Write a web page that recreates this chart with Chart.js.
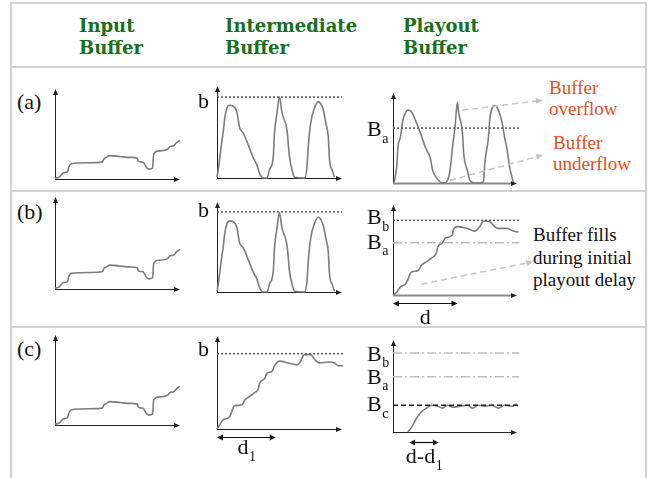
<!DOCTYPE html>
<html>
<head>
<meta charset="utf-8">
<script src="https://cdn.jsdelivr.net/npm/chart.js@4.4.1/dist/chart.umd.min.js"></script>
<style>
  body { margin: 0; background: #fff; }
  #page { position: relative; width: 657px; height: 478px; overflow: hidden; }
  .rule { position: absolute; background: #d2d2d2; }
  .head { position: absolute; font: bold 18px "DejaVu Serif", serif; line-height: 22px; color: #17701a; }
  .row { position: absolute; font: 22px "Liberation Serif", serif; line-height: 24px; color: #111; }
  .note { position: absolute; font: 19px "Liberation Serif", serif; line-height: 21px; }
  canvas { position: absolute; }
</style>
</head>
<body>
<div id="page"></div>
<script>
// column titles and row labels
const columnTitles = [['Input', 'Buffer'], ['Intermediate', 'Buffer'], ['Playout', 'Buffer']];
const rowLabels = ['(a)', '(b)', '(c)'];

// curves, [time, fill] in % of the axis
const inputBuffer = [[0,1],[3,2],[6,6],[7,7],[10,8],[11,13],[13,17],[28,18],[38,19],[39,22],[41,24],[44,26],[52,25],[60,24],[66,23],[66.5,20],[69,19],[71,18],[73,13],[75,11],[78,12],[79,28],[82,31],[90,33],[92,36],[95,37],[97,40],[100,43]];
const interPeaks = [[0,1],[1,9],[4,41],[5,50],[6,63],[8,76],[10,79],[14,77],[16,71],[18,55],[21,49],[25,36],[29,22],[32,14],[34,5],[37,0],[40,0],[42,9],[45,23],[46,49],[48,71],[50,88],[52,71],[56,52],[58,23],[60,9],[62,1],[70,0],[72,12],[73,34],[75,60],[78,76],[81,83],[85,74],[87,60],[89,45],[90,20],[92,9],[94,1]];
const interFill = [[0,0],[2,4],[5,10],[10,13],[13,23],[14,25],[20,26],[22,31],[25,34],[30,39],[33,43],[34,49],[38,54],[40,60],[44,62],[46,68],[50,73],[57,71],[64,69],[66,71],[70,80],[75,80],[78,75],[82,71],[90,72],[94,71],[97,68],[101,68]];
const playoutPeaks = [[1,1],[3,18],[4,40],[6,51],[8,70],[10,78],[12,81],[15,79],[18,70],[22,56],[26,40],[30,28],[32,14],[35,6],[40,0],[43,1],[46,14],[48,40],[50,62],[52,90],[53,78],[56,56],[57,33],[60,14],[62,3],[66,0],[73,1],[74,22],[77,51],[78,70],[82,86],[85,81],[88,67],[90,51],[92,37],[94,18],[97,1]];
const playoutFill = [[0,0],[3,3],[6,9],[10,12],[12,17],[14,24],[16,26],[20,27],[23,33],[27,37],[31,41],[35,47],[36,53],[40,58],[42,63],[44,64],[48,67],[48.5,72],[52,76],[60,74],[66,71],[70,76],[73,82],[77,82],[80,79],[84,74],[92,74],[97,71],[101,70],[105,70]];
const playoutSteady = [[12,0],[15,5],[19,15],[23,22],[27,26],[31,29],[36,28],[40,26],[44,29],[48,27],[54,28],[60,29],[64,26],[69,29],[74,28],[80,29],[85,26],[90,29],[96,28],[100,30],[104,27]];

// buffer levels
const levelB = [88, 89, 81];          // intermediate b, rows a..c
const levelsA = { Ba: 61 };
const levelsB = { Bb: 83, Ba: 58 };
const levelsC = { Bb: 86, Ba: 60, Bc: 29 };

// delays and pointers
const spanD = [0, 52];
const spanD1 = [0, 47];
const spanDminusD1 = [13, 37];
const overflowArrow = [[56, 81], [121, 92]];
const underflowArrow = [[46, 3], [121, 31]];
const fillArrow = [[23, 12], [113, 37]];

const page = document.getElementById('page');

function rule(x, y, w, h) {
  const d = document.createElement('div');
  d.className = 'rule';
  Object.assign(d.style, { left: x + 'px', top: y + 'px', width: w + 'px', height: h + 'px' });
  page.appendChild(d);
}
function text(cls, x, y, lines, color) {
  const d = document.createElement('div');
  d.className = cls;
  d.style.left = x + 'px';
  d.style.top = y + 'px';
  if (color) d.style.color = color;
  d.innerHTML = lines.join('<br>');
  page.appendChild(d);
  return d;
}

rule(10, 2, 637, 2);
rule(10, 66, 637, 2);
rule(10, 190, 637, 2);
rule(10, 326, 637, 2);
rule(10, 2, 2, 476);
rule(645, 2, 2, 476);

[79, 225, 403].forEach((x, i) => text('head', x, 15, columnTitles[i]));
[90, 200, 337].forEach((y, i) => text('row', 17, y, [rowLabels[i]]));
text('note', 549, 77, ['Buffer', 'overflow'], '#e2501e');
text('note', 553, 132, ['Buffer', 'underflow'], '#e2501e');
text('note', 533, 224, ['Buffer fills', 'during initial', 'playout delay'], '#111').style.lineHeight = '22.5px';

function head(ctx, x, y, ang, len, w) {
  ctx.beginPath();
  ctx.moveTo(x, y);
  ctx.lineTo(x - len * Math.cos(ang) + w * Math.sin(ang), y - len * Math.sin(ang) - w * Math.cos(ang));
  ctx.lineTo(x - len * Math.cos(ang) - w * Math.sin(ang), y - len * Math.sin(ang) + w * Math.cos(ang));
  ctx.closePath();
  ctx.fill();
}

function subText(ctx, main, sub, x, y, size) {
  ctx.font = size + 'px "Liberation Serif"';
  ctx.fillText(main, x, y);
  if (sub) {
    const w = ctx.measureText(main).width;
    ctx.font = Math.round(size * 0.65) + 'px "Liberation Serif"';
    ctx.fillText(sub, x + w + 0.5, y + size * 0.4);
  }
}

const sketch = {
  id: 'sketch',
  beforeDatasetsDraw(chart, args, o) {
    const { ctx, chartArea: a } = chart;
    ctx.save();
    ctx.fillStyle = '#222';
    ctx.strokeStyle = '#222';
    ctx.lineWidth = 1;
    ctx.beginPath();
    ctx.moveTo(a.left + 0.5, a.bottom);
    ctx.lineTo(a.left + 0.5, a.top + 3);
    ctx.stroke();
    head(ctx, a.left + 0.5, a.top, -Math.PI / 2, 6, 2.5);
    ctx.strokeStyle = o.xColor || '#222';
    ctx.lineWidth = o.xWidth || 1;
    ctx.beginPath();
    ctx.moveTo(a.left, a.bottom + 0.5);
    ctx.lineTo(a.right - 3, a.bottom + 0.5);
    ctx.stroke();
    head(ctx, a.right, a.bottom + 0.5, 0, 6, 2.5);
    ctx.restore();
  },
  afterDatasetsDraw(chart, args, o) {
    const { ctx, chartArea: a, scales: { x, y } } = chart;
    ctx.save();
    ctx.fillStyle = '#111';
    ctx.textBaseline = 'middle';
    (o.labels || []).forEach(l => {
      subText(ctx, l.t, l.s, a.left + l.dx, y.getPixelForValue(l.v) + (l.dy || 0), 22);
    });
    (o.spans || []).forEach(s => {
      const x0 = x.getPixelForValue(s.range[0]), x1 = x.getPixelForValue(s.range[1]);
      const yy = a.bottom + s.dy + 0.5;
      ctx.strokeStyle = '#111';
      ctx.lineWidth = 1.2;
      ctx.beginPath();
      ctx.moveTo(x0 + 3, yy);
      ctx.lineTo(x1 - 3, yy);
      ctx.stroke();
      head(ctx, x0, yy, Math.PI, 6, 3);
      head(ctx, x1, yy, 0, 6, 3);
      ctx.font = '22px "Liberation Serif"';
      let w = ctx.measureText(s.t).width;
      if (s.s) { ctx.font = '14px "Liberation Serif"'; w += ctx.measureText(s.s).width; }
      subText(ctx, s.t, s.s, (x0 + x1) / 2 - w / 2, yy + s.ly, 22);
    });
    (o.pointers || []).forEach(p => {
      const x0 = x.getPixelForValue(p[0][0]), y0 = y.getPixelForValue(p[0][1]);
      const x1 = x.getPixelForValue(p[1][0]), y1 = y.getPixelForValue(p[1][1]);
      const ang = Math.atan2(y1 - y0, x1 - x0);
      ctx.strokeStyle = '#c4c4c4';
      ctx.fillStyle = '#c4c4c4';
      ctx.lineWidth = 1.5;
      ctx.setLineDash([6, 4]);
      ctx.beginPath();
      ctx.moveTo(x0, y0);
      ctx.lineTo(x1 - 6 * Math.cos(ang), y1 - 6 * Math.sin(ang));
      ctx.stroke();
      ctx.setLineDash([]);
      head(ctx, x1, y1, ang, 7, 3);
    });
    ctx.restore();
  }
};

function curve(points) {
  return {
    data: points.map(([x, y]) => ({ x, y })),
    borderColor: '#7c7c7c', borderWidth: 1.6,
    cubicInterpolationMode: 'monotone', pointRadius: 0, clip: false
  };
}
function level(v, end, style) {
  const styles = {
    dot: { borderColor: '#555', borderDash: [2, 2], borderWidth: 1.5 },
    dashdot: { borderColor: '#bdbdbd', borderDash: [9, 3, 2, 3], borderWidth: 1.5 },
    dash: { borderColor: '#222', borderDash: [5, 3], borderWidth: 1.5 }
  };
  return Object.assign({ data: [{ x: 0, y: v }, { x: end, y: v }], pointRadius: 0, clip: false }, styles[style]);
}

// box: axis origin (x0, y0), x-axis tip x1, y-axis tip y1; canvas spans [cl, ct, cr, cb]
function panel(box, canvasBox, datasets, opts) {
  const [cl, ct, cr, cb] = canvasBox;
  const c = document.createElement('canvas');
  c.width = cr - cl; c.height = cb - ct;
  c.style.left = cl + 'px'; c.style.top = ct + 'px';
  c.style.width = (cr - cl) + 'px'; c.style.height = (cb - ct) + 'px';
  page.appendChild(c);
  return new Chart(c, {
    type: 'line',
    data: { datasets },
    options: {
      responsive: false, animation: false, devicePixelRatio: 1,
      layout: { padding: { left: box.x0 - cl, right: cr - box.x1, top: box.y1 - ct, bottom: cb - box.y0 } },
      scales: {
        x: { type: 'linear', min: 0, max: 100, display: false },
        y: { type: 'linear', min: 0, max: 100, display: false }
      },
      plugins: { legend: { display: false }, tooltip: { enabled: false }, sketch: opts || {} }
    },
    plugins: [sketch]
  });
}

// row (a)
panel({ x0: 55, y0: 179, x1: 180, y1: 89 }, [45, 80, 190, 188], [curve(inputBuffer)]);
panel({ x0: 217, y0: 178, x1: 342, y1: 86 }, [190, 78, 350, 188], [level(levelB[0], 100, 'dot'), curve(interPeaks)],
  { labels: [{ v: levelB[0], t: 'b', dx: -19, dy: 5 }] });
panel({ x0: 393, y0: 183, x1: 517, y1: 93 }, [360, 80, 645, 189], [level(levelsA.Ba, 102, 'dot'), curve(playoutPeaks)],
  { labels: [{ v: levelsA.Ba, t: 'B', s: 'a', dx: -26, dy: 2 }], pointers: [overflowArrow, underflowArrow], xColor: '#8a8a8a', xWidth: 2 });

// row (b)
panel({ x0: 55, y0: 289, x1: 180, y1: 197 }, [45, 192, 190, 300], [curve(inputBuffer)]);
panel({ x0: 217, y0: 292, x1: 342, y1: 202 }, [190, 194, 350, 305], [level(levelB[1], 100, 'dot'), curve(interPeaks)],
  { labels: [{ v: levelB[1], t: 'b', dx: -19, dy: -1 }] });
panel({ x0: 393, y0: 295, x1: 517, y1: 205 }, [360, 196, 645, 325], [level(levelsB.Bb, 102, 'dot'), level(levelsB.Ba, 102, 'dashdot'), curve(playoutFill)],
  { labels: [{ v: levelsB.Bb, t: 'B', s: 'b', dx: -26, dy: -2 }, { v: levelsB.Ba, t: 'B', s: 'a', dx: -26, dy: 0 }],
    spans: [{ range: spanD, dy: 8, ly: 15, t: 'd' }], pointers: [fillArrow], xColor: '#8a8a8a', xWidth: 2 });

// row (c)
panel({ x0: 55, y0: 425, x1: 180, y1: 335 }, [45, 328, 190, 435], [curve(inputBuffer)]);
panel({ x0: 217, y0: 429, x1: 342, y1: 336 }, [190, 330, 350, 470], [level(levelB[2], 101, 'dot'), curve(interFill)],
  { labels: [{ v: levelB[2], t: 'b', dx: -19, dy: -3 }], spans: [{ range: spanD1, dy: 8, ly: 11, t: 'd', s: '1' }] });
panel({ x0: 393, y0: 432, x1: 517, y1: 340 }, [360, 330, 540, 478], [level(levelsC.Bb, 102, 'dashdot'), level(levelsC.Ba, 102, 'dashdot'), level(levelsC.Bc, 102, 'dash'), curve(playoutSteady)],
  { labels: [{ v: levelsC.Bb, t: 'B', s: 'b', dx: -26, dy: 2 }, { v: levelsC.Ba, t: 'B', s: 'a', dx: -26, dy: 1 }, { v: levelsC.Bc, t: 'B', s: 'c', dx: -26, dy: 0 }],
    spans: [{ range: spanDminusD1, dy: 10, ly: 15, t: 'd-d', s: '1' }] });
</script>
</body>
</html>
